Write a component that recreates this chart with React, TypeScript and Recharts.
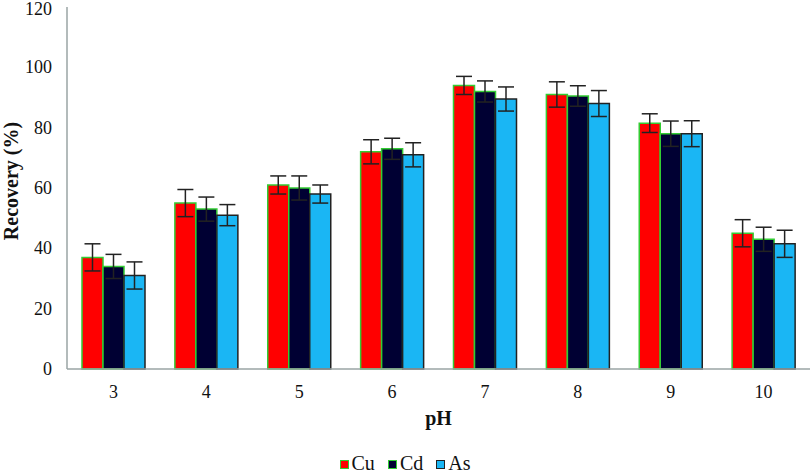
import { Bar, BarChart, ErrorBar, Legend, XAxis, YAxis } from "recharts";

const phLevels = ["3", "4", "5", "6", "7", "8", "9", "10"];
const cuRecovery = [37, 55, 61, 72, 94, 91, 81.5, 45];
const cuError = [4.5, 4.5, 3, 4, 3, 4.2, 3.1, 4.5];
const cdRecovery = [34, 53, 60, 73, 92, 90.5, 78, 43];
const cdError = [4, 4, 4, 3.5, 3.5, 3.4, 4.2, 4];
const asRecovery = [31, 51, 58, 71, 89.5, 88, 78, 41.5];
const asError = [4.5, 3.5, 3, 4, 4, 4.3, 4.3, 4.5];
const yTicks = [0, 20, 40, 60, 80, 100, 120];

const data = phLevels.map((ph, i) => ({
  ph,
  cu: cuRecovery[i],
  cuErr: cuError[i],
  cd: cdRecovery[i],
  cdErr: cdError[i],
  as: asRecovery[i],
  asErr: asError[i],
}));

const FONT = "Liberation Serif";
const INK = "#111";

const legendItems = [
  { name: "Cu", fill: "#ff0000", stroke: "#33cc33" },
  { name: "Cd", fill: "#000033", stroke: "#33cc33" },
  { name: "As", fill: "#1ab6f4", stroke: "#222222" },
];

function LegendBox() {
  return (
    <div
      style={{
        display: "flex",
        justifyContent: "center",
        gap: 13,
        fontFamily: FONT,
        fontSize: 20,
        lineHeight: "20px",
      }}
    >
      {legendItems.map((it) => (
        <div key={it.name} style={{ display: "flex", alignItems: "center", gap: 3 }}>
          <span
            style={{
              width: 7,
              height: 7,
              background: it.fill,
              border: `1.5px solid ${it.stroke}`,
              display: "inline-block",
              marginTop: 3,
            }}
          />
          <span style={{ color: INK }}>{it.name}</span>
        </div>
      ))}
    </div>
  );
}

function XTick({ x, y, payload }: any) {
  return (
    <text x={x} y={y + 29} textAnchor="middle" fill={INK} fontFamily={FONT} fontSize={18}>
      {payload.value}
    </text>
  );
}

function YTick({ x, y, payload }: any) {
  return (
    <text x={x - 15} y={y + 6} textAnchor="end" fill={INK} fontFamily={FONT} fontSize={18}>
      {payload.value}
    </text>
  );
}

function XLabel(props: any) {
  const { viewBox } = props;
  return (
    <text
      x={viewBox.x + viewBox.width / 2}
      y={425}
      textAnchor="middle"
      fill={INK}
      fontFamily={FONT}
      fontSize={20}
      fontWeight="bold"
    >
      pH
    </text>
  );
}

function YLabel(props: any) {
  const { viewBox } = props;
  const cx = 18;
  const cy = viewBox.y + viewBox.height / 2 - 7;
  return (
    <text
      x={cx}
      y={cy}
      transform={`rotate(-90, ${cx}, ${cy})`}
      textAnchor="middle"
      fill={INK}
      fontFamily={FONT}
      fontSize={20}
      fontWeight="bold"
    >
      Recovery (%)
    </text>
  );
}

export default function App() {
  return (
    <div style={{ position: "absolute", left: 0, top: 0, background: "#fff" }}>
      <BarChart
        width={810}
        height={475}
        data={data}
        margin={{ top: 7, right: 0, left: 0, bottom: 10 }}
        barGap={0}
        barCategoryGap={15}
      >
        <XAxis
          dataKey="ph"
          height={60}
          tickLine={false}
          tickSize={0}
          tickMargin={0}
          axisLine={{ stroke: "#9aa5a5", strokeWidth: 1.5 }}
          tick={<XTick />}
          label={<XLabel />}
        />
        <YAxis
          width={67}
          domain={[0, 120]}
          ticks={yTicks}
          tickLine={false}
          tickSize={0}
          tickMargin={0}
          axisLine={{ stroke: "#9aa5a5", strokeWidth: 1.5 }}
          tick={<YTick />}
          label={<YLabel />}
        />
        <Legend
          verticalAlign="bottom"
          height={36}
          wrapperStyle={{ top: 453, left: 0, width: 810 }}
          content={() => <LegendBox />}
        />
        <Bar dataKey="cu" name="Cu" fill="#ff0000" stroke="#33cc33" strokeWidth={1.5} isAnimationActive={false}>
          <ErrorBar dataKey="cuErr" width={8} stroke="#222" strokeWidth={1.5} />
        </Bar>
        <Bar dataKey="cd" name="Cd" fill="#000033" stroke="#33cc33" strokeWidth={1.5} isAnimationActive={false}>
          <ErrorBar dataKey="cdErr" width={8} stroke="#222" strokeWidth={1.5} />
        </Bar>
        <Bar dataKey="as" name="As" fill="#1ab6f4" stroke="#222222" strokeWidth={1.5} isAnimationActive={false}>
          <ErrorBar dataKey="asErr" width={8} stroke="#222" strokeWidth={1.5} />
        </Bar>
      </BarChart>
    </div>
  );
}
